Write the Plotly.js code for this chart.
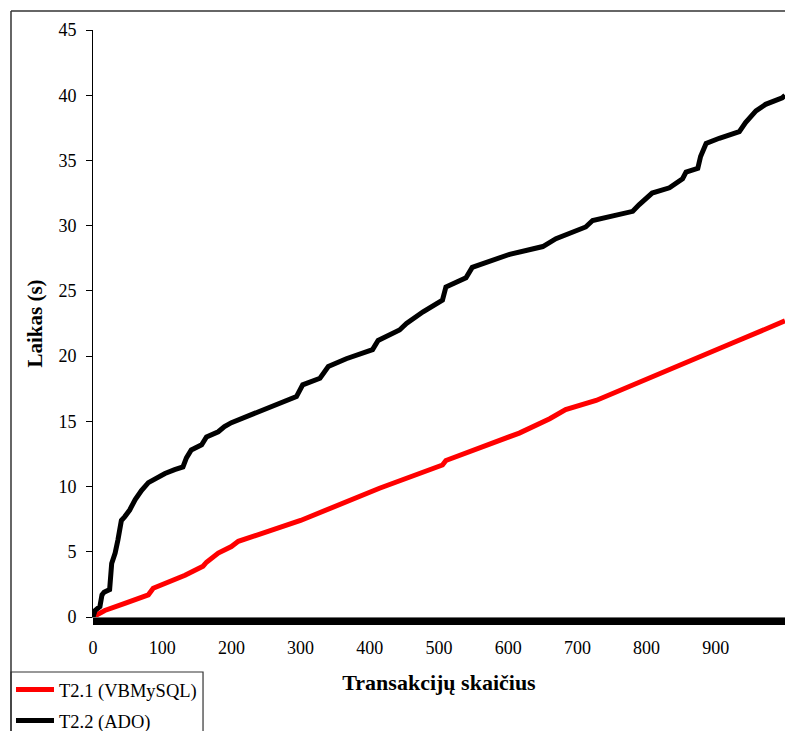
<!DOCTYPE html>
<html>
<head>
<meta charset="utf-8">
<script src="https://cdn.plot.ly/plotly-3.0.1.min.js"></script>
<style>
#chart text { font-family: 'Liberation Serif', 'Times New Roman', serif !important; }
</style>
</head>
<body style="margin:0">
<div id="chart" style="width:785px;height:731px"></div>
<script>
// Data
var seriesNames = ["T2.1 (VBMySQL)", "T2.2 (ADO)"];
var vbX = [0,17,46,80,87,109,133,159,164,181,200,210,300,414,505,510,616,660,683,727,828,924,1000];
var vbY = [0,0.5,1.05,1.7,2.2,2.7,3.2,3.9,4.2,4.9,5.4,5.8,7.4,9.87,11.65,12.0,14.1,15.2,15.9,16.6,18.9,21.0,22.7];
var adoX = [0,3,10,13,16,24,27,32,36,41,46,53,61,70,80,92,104,118,130,135,142,157,164,181,190,200,227,270,294,303,328,340,366,404,412,443,453,477,505,510,539,548,563,587,602,650,669,712,722,780,789,808,833,852,857,874,878,886,905,934,943,958,972,996,1000];
var adoY = [0,0.5,0.8,1.7,1.9,2.1,4.1,4.9,5.9,7.4,7.7,8.2,9.0,9.7,10.3,10.7,11.0,11.3,11.5,12.2,12.8,13.2,13.8,14.2,14.6,14.9,15.5,16.4,16.9,17.8,18.3,19.2,19.8,20.5,21.2,22.0,22.5,23.4,24.3,25.3,26.0,26.8,27.1,27.5,27.8,28.4,29.0,29.9,30.4,31.1,31.6,32.5,32.9,33.6,34.1,34.4,35.3,36.3,36.7,37.2,37.9,38.8,39.3,39.8,40.0];
var xTickVals = [0,100,200,300,400,500,600,700,800,900];
var yTickVals = [0,5,10,15,20,25,30,35,40,45];
var xTitle = "Transakcijų skaičius";
var yTitle = "Laikas (s)";

var FAM = "Liberation Serif";

var traces = [
  {x: vbX, y: vbY, name: seriesNames[0], type: "scatter", mode: "lines",
   line: {color: "#ff0000", width: 5}, legend: "legend"},
  {x: adoX, y: adoY, name: seriesNames[1], type: "scatter", mode: "lines",
   line: {color: "#000000", width: 5}, legend: "legend2"}
];

var layout = {
  width: 785, height: 731,
  margin: {l: 93, r: 0, t: 30, b: 114, autoexpand: false},
  paper_bgcolor: "#ffffff", plot_bgcolor: "#ffffff",
  font: {family: FAM, size: 18, color: "#000000"},
  showlegend: true,
  xaxis: {
    range: [0, 1000], tickvals: xTickVals, ticktext: xTickVals.map(String),
    showgrid: false, zeroline: false, showline: true, linecolor: "#707070", linewidth: 1,
    ticks: "outside", ticklen: 7, tickwidth: 1, tickcolor: "#000000",
    minor: {dtick: 1, ticks: "outside", ticklen: 7, tickwidth: 1, tickcolor: "#000000", showgrid: false},
    ticklabelstandoff: 7,
    tickfont: {family: FAM, size: 18, color: "#000000"},
    automargin: false,
    title: {text: "<b>" + xTitle + "</b>", standoff: 18, font: {family: FAM, size: 22, color: "#000000"}},
    fixedrange: true
  },
  yaxis: {
    range: [0, 45], tickvals: yTickVals, ticktext: yTickVals.map(String),
    showgrid: false, zeroline: false, showline: true, linecolor: "#000000", linewidth: 1,
    ticks: "outside", ticklen: 6, tickwidth: 1, tickcolor: "#000000",
    ticklabelstandoff: 6,
    tickfont: {family: FAM, size: 18, color: "#000000"},
    automargin: false,
    title: {text: "<b>" + yTitle + "</b>", standoff: 10, font: {family: FAM, size: 21, color: "#000000"}},
    fixedrange: true
  },
  legend: {x: -0.1185, xanchor: "left", y: -0.1244, yanchor: "middle", itemwidth: 38,
    bgcolor: "rgba(0,0,0,0)", borderwidth: 0, font: {family: FAM, size: 18.5, color: "#000000"}},
  legend2: {x: -0.1185, xanchor: "left", y: -0.1772, yanchor: "middle", itemwidth: 38,
    bgcolor: "rgba(0,0,0,0)", borderwidth: 0, font: {family: FAM, size: 18.5, color: "#000000"}},
  shapes: [
    {type: "line", xref: "paper", yref: "paper", x0: -0.1185, x1: -0.1185, y0: 1.0324, y1: -0.3,
     line: {color: "#333333", width: 1.5}},
    {type: "line", xref: "paper", yref: "paper", x0: -0.1185, x1: 1.05, y0: 1.0324, y1: 1.0324,
     line: {color: "#333333", width: 1.5}},
    {type: "rect", xref: "paper", yref: "paper", x0: -0.1185, x1: 0.159, y0: -0.0937, y1: -0.4,
     line: {color: "#333333", width: 1.2}, fillcolor: "rgba(0,0,0,0)"}
  ]
};

Plotly.newPlot("chart", traces, layout, {displayModeBar: false, staticPlot: true});
</script>
</body>
</html>
